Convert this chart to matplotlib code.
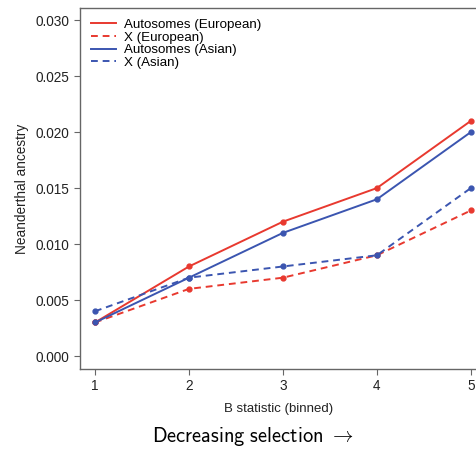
import matplotlib
matplotlib.use("Agg")
import matplotlib.pyplot as plt

plt.rcParams['font.family'] = ['Liberation Sans', 'DejaVu Sans']
plt.rcParams['mathtext.fontset'] = 'cm'

bins = [1, 2, 3, 4, 5]
auto_eur = [0.003, 0.008, 0.012, 0.015, 0.021]
x_eur = [0.003, 0.006, 0.007, 0.009, 0.013]
auto_asn = [0.003, 0.007, 0.011, 0.014, 0.020]
x_asn = [0.004, 0.007, 0.008, 0.009, 0.015]
yticks = [0.000, 0.005, 0.010, 0.015, 0.020, 0.025, 0.030]

red = '#e8392f'
blue = '#3b55b0'
grey = '#666666'

fig = plt.figure(figsize=(4.76, 4.49), dpi=100)
ax = fig.add_axes([0.168, 0.178, 0.835, 0.804])

ax.plot(bins, auto_eur, color=red, lw=1.4, ls='-', marker='o', ms=3.5, label='Autosomes (European)')
ax.plot(bins, x_eur, color=red, lw=1.4, ls=(0, (3.5, 2.5)), marker='o', ms=3.5, label='X (European)')
ax.plot(bins, auto_asn, color=blue, lw=1.4, ls='-', marker='o', ms=3.5, label='Autosomes (Asian)')
ax.plot(bins, x_asn, color=blue, lw=1.4, ls=(0, (3.5, 2.5)), marker='o', ms=3.5, label='X (Asian)')

ax.set_xlim(0.84, 5.07)
ax.set_ylim(-0.00116, 0.03107)
ax.set_xticks(bins)
ax.set_yticks(yticks)
ax.set_yticklabels([f'{v:.3f}' for v in yticks])
for s in ax.spines.values():
    s.set_color(grey)
    s.set_linewidth(1.0)
ax.tick_params(axis='both', colors=grey, labelcolor='#222222', labelsize=9.8, length=4, width=0.8, direction='out')
ax.set_xlabel('B statistic (binned)', fontsize=9.5, color='#222222', labelpad=7)
ax.set_ylabel('Neanderthal ancestry', fontsize=9.8, color='#222222', labelpad=5)

leg = ax.legend(loc='upper left', frameon=False, fontsize=9.6, handlelength=1.9,
                labelspacing=0.02, borderaxespad=0.4, handletextpad=0.6)
for h in leg.legend_handles:
    h.set_marker('')

fig.text(0.53, 0.027, r'$\mathsf{Decreasing\ selection}\ \rightarrow$', fontsize=14.7,
         ha='center', va='center', color='black')

fig.savefig('out.png', dpi=100)
